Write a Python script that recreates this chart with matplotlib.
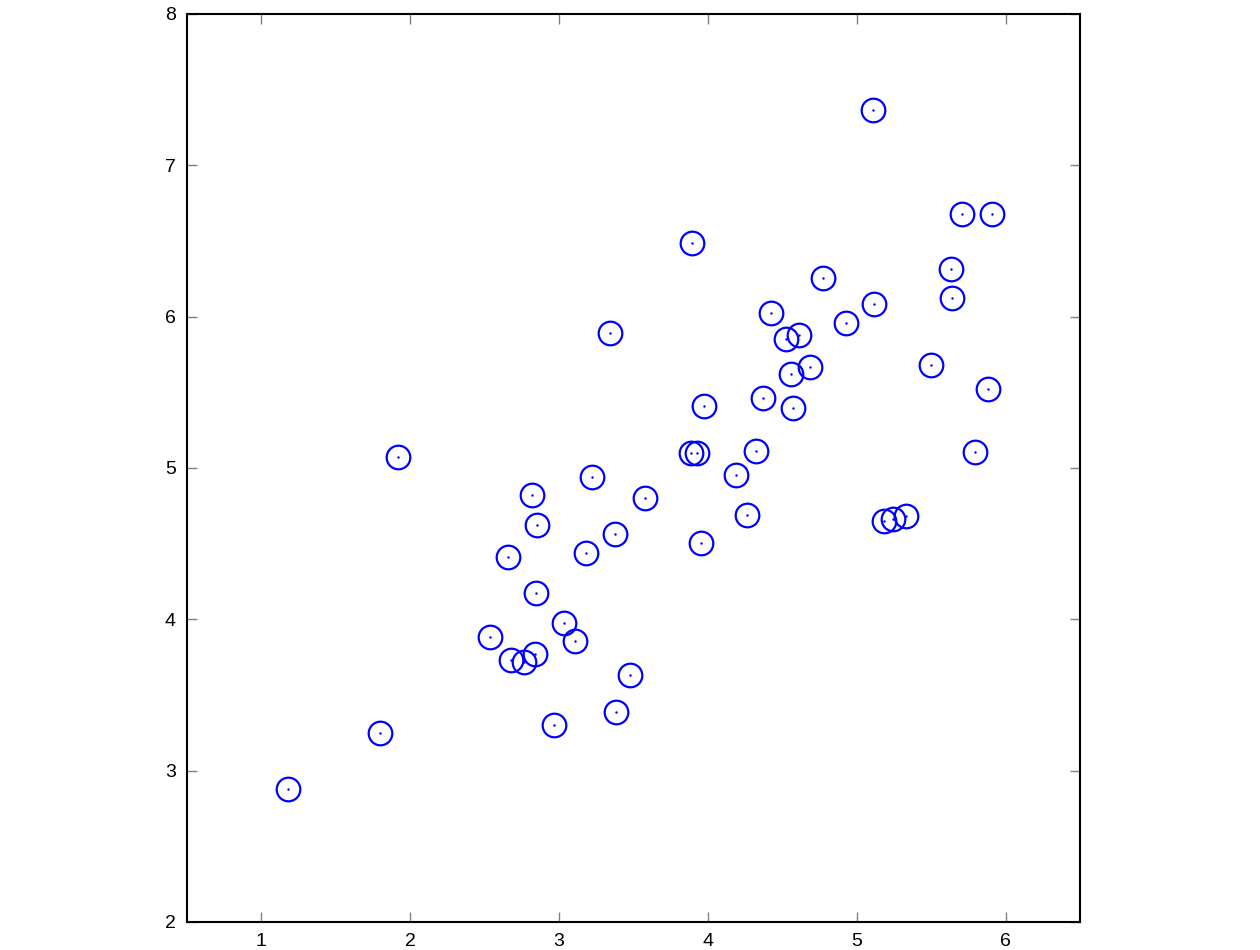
import matplotlib
matplotlib.use("Agg")
import matplotlib.pyplot as plt
import numpy as np

# ex7data1-style points
x = [3.38156267, 4.52787538, 2.65568187, 2.76523467, 2.84656011, 3.89067196,
     3.47580524, 5.91129845, 3.92889397, 4.56183537, 4.57407171, 4.37173356,
     4.19169388, 5.24408518, 2.8358402, 5.63526969, 4.68632968, 2.85051337,
     5.1101573, 5.18256377, 5.70732809, 3.57968458, 5.63937773, 4.26346851,
     2.53651693, 3.22382902, 4.92948801, 5.79295774, 2.81684824, 3.88882414,
     3.34323419, 5.87973414, 3.10391912, 5.33150572, 3.37542687, 4.77667888,
     2.6757463, 5.50027665, 1.79709714, 4.3225147, 4.42100445, 3.17929886,
     3.03354125, 4.6093482, 2.96378859, 3.97176248, 1.18023321, 1.91895045,
     3.95524687, 5.11795499]
y = [3.38911268, 5.8541781, 4.41199472, 3.71541365, 4.17550645, 6.48838087,
     3.63284876, 6.68076853, 5.09844661, 5.62329929, 5.39765069, 5.46116549,
     4.95469359, 4.66148767, 3.76801716, 6.31211438, 5.6652411, 4.62645627,
     7.36319662, 4.64650909, 6.68103995, 4.80278074, 6.12043594, 4.68942896,
     3.88449078, 4.94255585, 5.95501971, 5.10839305, 4.81895769, 5.10036564,
     5.89301345, 5.52141664, 3.85710242, 4.68074235, 4.56537852, 6.25435039,
     3.73096988, 5.67948113, 3.24753885, 5.11110472, 6.02563978, 4.43686032,
     3.97879278, 5.879792, 3.30024835, 5.40773735, 2.87869409, 5.07107848,
     4.50532998, 6.08507386]

plt.rcParams['font.family'] = ['Liberation Sans', 'DejaVu Sans']

fig = plt.figure(figsize=(12.6, 9.5), dpi=100)
ax = fig.add_axes([0.1484, 0.0295, 0.7087, 0.9558])

ax.plot(x, y, 'o', mfc='none', mec='blue', ms=17, mew=1.6)
ax.plot(x, y, '.', color='blue', ms=1.5)

ax.set_xlim(0.5, 6.5)
ax.set_ylim(2, 8)
ax.set_xticks([1, 2, 3, 4, 5, 6])
ax.set_yticks([2, 3, 4, 5, 6, 7, 8])
ax.tick_params(direction='in', length=7, width=1, color='gray',
               top=True, right=True, labelsize=14, pad=8)
for s in ax.spines.values():
    s.set_linewidth(1.5)

fig.savefig('out.png', dpi=100)
